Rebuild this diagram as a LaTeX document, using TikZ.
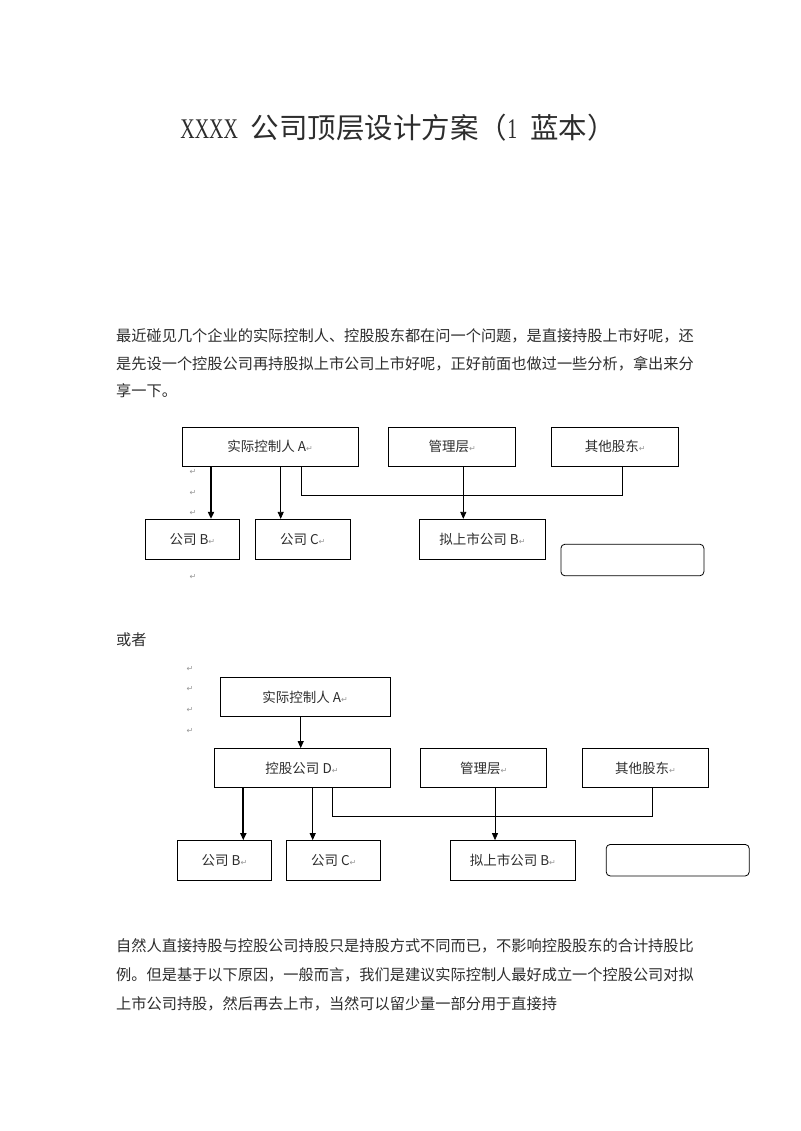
\documentclass[tikz,border=0pt]{standalone}
\usepackage{fontspec}
\usepackage{tikz}
\usetikzlibrary{
    positioning,
    arrows.meta
}
\setmainfont{Noto Sans CJK SC}
\newfontfamily\titlelatin[FakeStretch=0.7]{Liberation Serif}
\newfontfamily\symfont{DejaVu Sans}
\definecolor{TextGray}{RGB}{45,45,45}
\definecolor{MarkGray}{RGB}{150,150,150}
\newcommand{\retmark}{{\symfont\fontsize{8}{9}\selectfont\color{MarkGray}↵}}

\begin{document}
\begin{tikzpicture}[
    x=1pt, y=-1pt,
    box/.style={rectangle, draw, line width=0.8pt, inner sep=0pt, align=center, text=TextGray, font=\fontsize{13.5}{16}\selectfont, minimum height=39pt},
    blank/.style={rectangle, draw, line width=0.8pt, rounded corners=4pt, minimum width=143pt, minimum height=31.5pt},
    para/.style={anchor=west, inner sep=0pt, text=TextGray, font=\fontsize{15.2}{18}\selectfont},
    retnode/.style={inner sep=0pt},
    arrbold/.style={line width=1.7pt, -{Triangle[length=7pt,width=6pt]}},
    arr/.style={line width=0.8pt, -{Triangle[length=7pt,width=6pt]}},
    link/.style={line width=1.2pt},
]
\useasboundingbox (0,0) rectangle (800,1131);

\node[inner sep=0pt, text=TextGray, font=\fontsize{28.5}{33}\selectfont] (title) at (398,128) {{\titlelatin XXXX}\hspace{0.45em}公司顶层设计方案（{\titlelatin 1}\hspace{0.45em}蓝本）};

\node[para] (intro1) at (116,336) {最近碰见几个企业的实际控制人、控股股东都在问一个问题，是直接持股上市好呢，还};
\node[para] (intro2) at (116,364) {是先设一个控股公司再持股拟上市公司上市好呢，正好前面也做过一些分析，拿出来分};
\node[para] (intro3) at (116,391) {享一下。};

\node[box, minimum width=176pt] (ctrlA) at (270,446.5) {实际控制人 A\retmark};
\node[box, minimum width=127pt] (mgmt) at (452.3,446.5) {管理层\retmark};
\node[box, minimum width=127pt] (other) at (615.3,446.5) {其他股东\retmark};
\node[box, minimum width=94pt, minimum height=40pt] (compB) at (192.3,539.3) {公司 B\retmark};
\node[box, minimum width=95pt, minimum height=40pt] (compC) at (302.7,539.3) {公司 C\retmark};
\node[box, minimum width=126pt, minimum height=40pt] (listco) at (482.5,539.3) {拟上市公司 B\retmark};
\node[blank] (blankA) at (632.4,560) {};
\foreach \y [count=\i] in {472,493,513,577}
    \node[retnode] (retA\i) at (193,\y) {\retmark};

\draw[arrbold] ([xshift=-59pt]ctrlA.south) -- ([xshift=-59pt]ctrlA.south |- compB.north);
\draw[arr] ([xshift=10.7pt]ctrlA.south) -- ([xshift=10.7pt]ctrlA.south |- compC.north);
\draw[link] ([xshift=31.7pt]ctrlA.south) |- ([xshift=7pt,yshift=-29pt]other.south) -- ([xshift=7pt]other.south);
\draw[arr] ([xshift=11pt]mgmt.south) -- ([xshift=11pt]mgmt.south |- listco.north);

\node[para] (orline) at (116,640) {或者};

\foreach \y [count=\i] in {669,689,710,731}
    \node[retnode] (retB\i) at (190,\y) {\retmark};
\node[box, minimum width=170pt] (ctrlA2) at (305,697) {实际控制人 A\retmark};
\node[box, minimum width=176pt] (holdD) at (302,768) {控股公司 D\retmark};
\node[box, minimum width=126pt] (mgmt2) at (483.6,768) {管理层\retmark};
\node[box, minimum width=125.6pt] (other2) at (645.5,768) {其他股东\retmark};
\node[box, minimum width=94.4pt, minimum height=39.5pt] (compB2) at (224.5,860.3) {公司 B\retmark};
\node[box, minimum width=94pt, minimum height=39.5pt] (compC2) at (333.7,860.3) {公司 C\retmark};
\node[box, minimum width=125.7pt, minimum height=39.5pt] (listco2) at (512.8,860.3) {拟上市公司 B\retmark};
\node[blank] (blankB) at (677.7,860.2) {};

\draw[arr] ([xshift=-4.3pt]ctrlA2.south) -- ([xshift=-4.3pt]ctrlA2.south |- holdD.north);
\draw[arrbold] ([xshift=-58.7pt]holdD.south) -- ([xshift=-58.7pt]holdD.south |- compB2.north);
\draw[arr] ([xshift=10.7pt]holdD.south) -- ([xshift=10.7pt]holdD.south |- compC2.north);
\draw[link] ([xshift=30.7pt]holdD.south) |- ([xshift=6.8pt,yshift=-28.5pt]other2.south) -- ([xshift=6.8pt]other2.south);
\draw[arr] ([xshift=11.4pt]mgmt2.south) -- ([xshift=11.4pt]mgmt2.south |- listco2.north);

\node[para] (close1) at (116,946) {自然人直接持股与控股公司持股只是持股方式不同而已，不影响控股股东的合计持股比};
\node[para] (close2) at (116,975) {例。但是基于以下原因，一般而言，我们是建议实际控制人最好成立一个控股公司对拟};
\node[para] (close3) at (116,1004) {上市公司持股，然后再去上市，当然可以留少量一部分用于直接持};
\end{tikzpicture}
\end{document}
